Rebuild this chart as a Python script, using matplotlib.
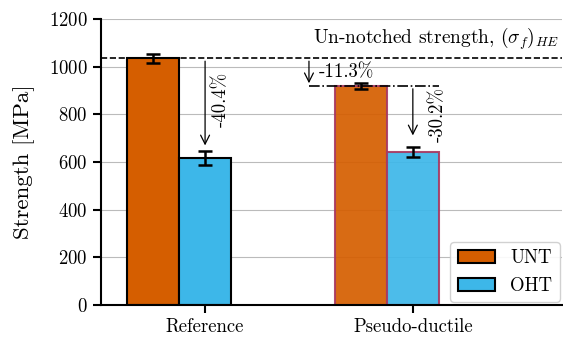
import matplotlib
matplotlib.use("Agg")
import matplotlib.pyplot as plt
import numpy as np

plt.rcParams['font.family'] = 'serif'
plt.rcParams['font.serif'] = ['cmr10']
plt.rcParams['mathtext.fontset'] = 'cm'
plt.rcParams['axes.formatter.use_mathtext'] = True
plt.rcParams['axes.unicode_minus'] = False

groups = ['Reference', 'Pseudo-ductile']
unt = [1035, 919]
unt_err = [20, 12]
oht = [617, 642]
oht_err = [30, 22]
drop_oht = ['-40.4%', '-30.2%']
drop_pd = '-11.3%'
arrow_tip = [658, 700]

orange = '#d55e00'
blue = '#3db7e9'
pd_edge = '#a83a62'

x = np.arange(len(groups))
w = 0.25

fig = plt.figure(figsize=(5.63, 3.38), dpi=100)
ax = fig.add_axes([0.179, 0.0976, 0.82, 0.846])

ax.set_axisbelow(True)
ax.yaxis.grid(True, color='#bbbbbb', lw=0.8)

edges = ['black', pd_edge]
alphas = [1.0, 0.92]
for i in range(len(groups)):
    ax.bar(x[i] - w, unt[i], w, color=orange, edgecolor=edges[i], lw=1.5,
           alpha=alphas[i], label='UNT' if i == 0 else None)
    ax.bar(x[i], oht[i], w, color=blue, edgecolor=edges[i], lw=1.5,
           alpha=alphas[i], label='OHT' if i == 0 else None)
    ax.errorbar(x[i] - w, unt[i], yerr=unt_err[i], fmt='none', ecolor='black',
                capsize=5, elinewidth=1.8, capthick=1.8)
    ax.errorbar(x[i], oht[i], yerr=oht_err[i], fmt='none', ecolor='black',
                capsize=5, elinewidth=1.8, capthick=1.8)

# un-notched strength reference line
ax.axhline(unt[0], color='black', ls='--', lw=1.2)
ax.text(1.705, unt[0] + 25, r'Un-notched strength, $(\sigma_f)_{HE}$',
        ha='right', va='bottom', fontsize=14)

# pseudo-ductile UNT level
ax.plot([0.50, 1.125], [unt[1], unt[1]], color='black', ls='-.', lw=1.2)
ax.annotate('', xy=(0.5, unt[1]), xytext=(0.5, unt[0]),
            arrowprops=dict(arrowstyle='->', color='black', lw=0.9, mutation_scale=16))
ax.text(0.545, unt[1] + 20, drop_pd, ha='left', va='bottom', fontsize=13.5)

# drop arrows to OHT
label_dx = [0.035, 0.08]
label_top = [980, 915]
for i in range(len(groups)):
    top = unt[0] if i == 0 else unt[1]
    ax.annotate('', xy=(x[i], arrow_tip[i]), xytext=(x[i], top),
                arrowprops=dict(arrowstyle='->', color='black', lw=0.9, mutation_scale=16))
    ax.text(x[i] + label_dx[i], label_top[i], drop_oht[i], rotation=90,
            ha='left', va='top', fontsize=13.5)

ax.set_xlim(-0.502, 1.72)
ax.set_ylim(0, 1200)
ax.set_yticks(np.arange(0, 1201, 200))
ax.set_xticks(x)
ax.set_xticklabels(groups, fontsize=13.5)
ax.tick_params(axis='y', labelsize=13.5, width=1.5, length=6)
ax.tick_params(axis='x', width=1.5, length=6)
ax.set_ylabel('Strength [MPa]', fontsize=16.5, labelpad=10)
ax.spines['top'].set_visible(False)
ax.spines['right'].set_visible(False)
ax.spines['left'].set_linewidth(1.5)
ax.spines['bottom'].set_linewidth(1.5)

ax.legend(loc='lower right', fontsize=13.5, framealpha=0.9, borderpad=0.4,
          handlelength=2.0, borderaxespad=0.15)

fig.savefig('out.png', dpi=100)
